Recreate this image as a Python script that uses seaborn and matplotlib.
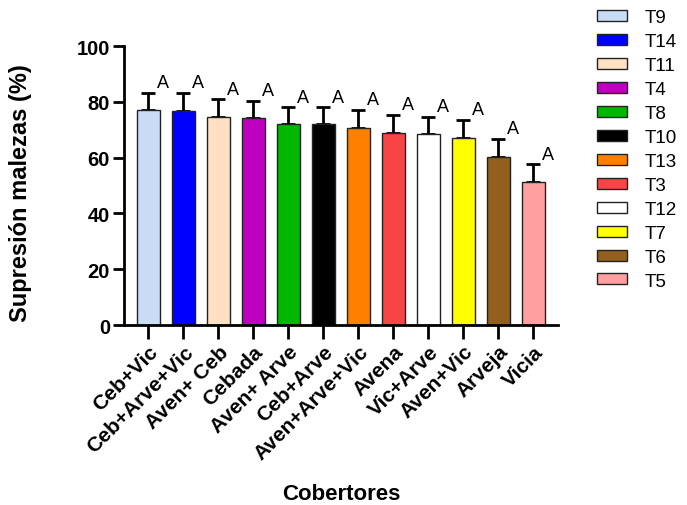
import numpy as np
import pandas as pd
import matplotlib
matplotlib.use("Agg")
import matplotlib.pyplot as plt
import seaborn as sns
from matplotlib.patches import Patch

sns.set_style("ticks")
plt.rcParams["font.family"] = ["Liberation Sans", "DejaVu Sans"]
for k in ["text.color", "axes.labelcolor", "xtick.color", "ytick.color", "axes.edgecolor"]:
    plt.rcParams[k] = "black"

cobertores = ["Ceb+Vic", "Ceb+Arve+Vic", "Aven+ Ceb", "Cebada", "Aven+ Arve", "Ceb+Arve",
              "Aven+Arve+Vic", "Avena", "Vic+Arve", "Aven+Vic", "Arveja", "Vicia"]
tratamientos = ["T9", "T14", "T11", "T4", "T8", "T10", "T13", "T3", "T12", "T7", "T6", "T5"]
supresion = [77.1, 76.8, 74.6, 74.1, 71.9, 71.9, 70.8, 69.0, 68.6, 67.1, 60.3, 51.3]
error_sup = [6.1, 6.4, 6.3, 6.3, 6.1, 6.1, 6.4, 6.3, 6.1, 6.4, 6.4, 6.3]
letras = ["A"] * 12
colores = ["#c9dcf5", "#0000ff", "#ffe0c2", "#c000c0", "#00b800", "#000000",
           "#ff8000", "#f84444", "#ffffff", "#ffff00", "#935f1f", "#ff9f9f"]

df = pd.DataFrame({"cob": cobertores, "sup": supresion})

fig = plt.figure(figsize=(6.87, 5.06), dpi=100)
ax = fig.add_axes([0.1805, 0.3557, 0.6315, 0.5513])

sns.barplot(data=df, x="cob", y="sup", hue="cob", palette=colores, legend=False, saturation=1,
            edgecolor="#222222", linewidth=1.0, width=0.64, ax=ax, zorder=2)
x = np.arange(len(cobertores))
ax.errorbar(x, supresion, yerr=[np.zeros(len(x)), error_sup], fmt="none",
            ecolor="black", elinewidth=2, capsize=5, capthick=2, zorder=1)

for i, (m, e, l) in enumerate(zip(supresion, error_sup, letras)):
    ax.text(i + 0.42, m + e + 0.6, l, ha="center", va="bottom", fontsize=13)

ax.set_xlim(-0.7, 11.7)
ax.set_ylim(0, 100)
ax.set_yticks([0, 20, 40, 60, 80, 100])
sns.despine(ax=ax)
for s in ["left", "bottom"]:
    ax.spines[s].set_linewidth(2)
ax.tick_params(axis="both", width=2, length=8, labelsize=14.5, pad=2)
ax.tick_params(axis="x", length=10)
for t in ax.get_yticklabels():
    t.set_fontweight("bold")
ax.set_xticks(x)
ax.set_xticklabels(cobertores, rotation=45, ha="right", rotation_mode="anchor",
                   fontweight="bold", fontsize=15)
ax.set_xlabel("Cobertores", fontweight="bold", fontsize=16)
ax.xaxis.set_label_coords(0.5, -0.565)
ax.set_ylabel("Supresión malezas (%)", fontweight="bold", fontsize=17)
ax.yaxis.set_label_coords(-0.212, 0.477)

handles = [Patch(facecolor=c, edgecolor="#222222", linewidth=1.0, label=t)
           for c, t in zip(colores, tratamientos)]
fig.legend(handles=handles, loc="upper left", bbox_to_anchor=(0.845, 1.013), frameon=False,
           fontsize=13.5, handlelength=1.6, handleheight=0.53, labelspacing=0.37, handletextpad=0.9)

fig.savefig("out.png", dpi=100)
